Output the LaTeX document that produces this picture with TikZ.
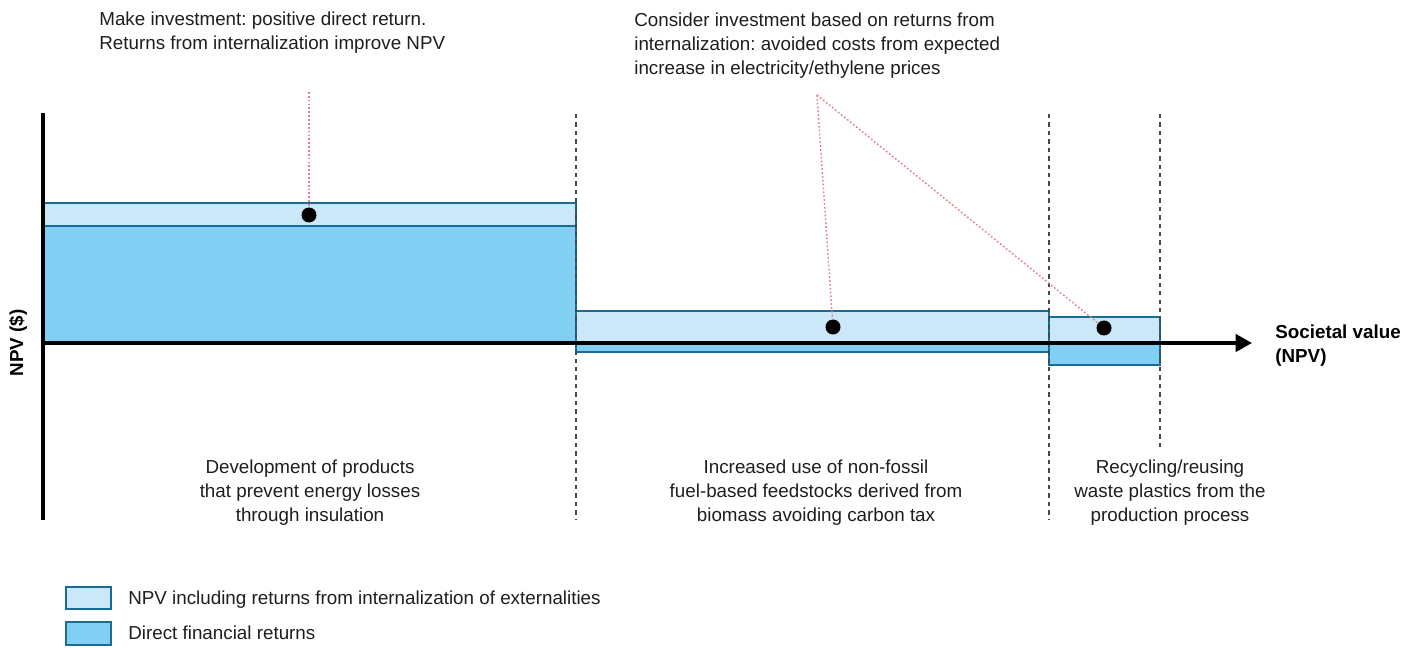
\documentclass[tikz,border=0pt]{standalone}
\usepackage{fontspec}
\setmainfont{Liberation Sans}
\usetikzlibrary{arrows.meta}
\definecolor{extblue}{HTML}{CBE8F8}
\definecolor{dirblue}{HTML}{82CFF4}
\definecolor{edgeblue}{HTML}{1B6C93}
\definecolor{notered}{HTML}{E57F8A}
\definecolor{splitgray}{HTML}{3C4A56}
\definecolor{inkgray}{HTML}{1E1E1E}
\frenchspacing

\begin{document}
\begin{tikzpicture}[x=0.02cm, y=-0.02cm,
  extbar/.style={fill=extblue, draw=edgeblue, line width=0.8pt},
  dirbar/.style={fill=dirblue, draw=edgeblue, line width=0.8pt},
  split/.style={draw=splitgray, line width=0.8pt, dash pattern=on 2.5pt off 2.3pt},
  axis/.style={draw=black, line width=1.9pt},
  noteline/.style={draw=notered, line width=0.8pt, dash pattern=on 1pt off 1.2pt},
  dot/.style={circle, fill=black, inner sep=0pt, minimum size=0.3cm},
  txt/.style={inner sep=0pt, text=inkgray, font=\fontsize{10.7}{13.4}\selectfont},
  bold/.style={inner sep=0pt, text=black, font=\bfseries\fontsize{10.7}{13.2}\selectfont}]
\useasboundingbox (0, 0) rectangle (1414, 648);

% bars
\path [extbar] (43, 203) rectangle (576, 226);
\path [dirbar] (43, 226) rectangle (576, 343);
\path [extbar] (576, 311) rectangle (1049, 343);
\path [dirbar] (576, 343) rectangle (1049, 352);
\path [extbar] (1049, 317) rectangle (1160, 343);
\path [dirbar] (1049, 343) rectangle (1160, 365);

% split lines
\draw [split] (576, 114) -- (576, 520);
\draw [split] (1049, 114) -- (1049, 520);
\draw [split] (1160, 114) -- (1160, 449);

% axes
\coordinate (origin) at (43, 343);
\coordinate (ytop) at (43, 113);
\coordinate (ybot) at (43, 520);
\coordinate (xend) at (1252, 343);
\draw [axis] (ytop) -- (ybot);
\draw [axis, -{Triangle[length=0.33cm, width=0.35cm]}] (origin) -- (xend);
\node [bold, rotate=90] (ylab) at (18, 343) {NPV (\$)};
\node [bold, anchor=north west, align=left] (xlab) at (1275, 325) {Societal value\\(NPV)};

% dots and notes
\node [dot] (dotA) at (309, 215) {};
\node [dot] (dotB) at (833, 327) {};
\node [dot] (dotC) at (1104, 328) {};
\coordinate (tipA) at (309, 92);
\coordinate (tipB) at (817, 95);
\draw [noteline] (tipA) -- (dotA);
\draw [noteline] (tipB) -- (dotB);
\draw [noteline] (tipB) -- (dotC);

\node [txt, anchor=north west, align=left] (noteA) at (99, 12) {Make investment: positive direct return.\\Returns from internalization improve NPV};
\node [txt, anchor=north west, align=left] (noteB) at (634, 13) {Consider investment based on returns from\\internalization: avoided costs from expected\\increase in electricity/ethylene prices};

% labels
\node [txt, anchor=north, align=center] (labA) at (310, 460) {Development of products\\that prevent energy losses\\through insulation};
\node [txt, anchor=north, align=center] (labB) at (816, 460) {Increased use of non-fossil\\fuel-based feedstocks derived from\\biomass avoiding carbon tax};
\node [txt, anchor=north, align=center] (labC) at (1170, 460) {Recycling/reusing\\waste plastics from the\\production process};

% legend
\path [extbar] (66, 587) rectangle (111, 609);
\path [dirbar] (66, 622) rectangle (111, 645);
\node [txt, anchor=base west] (keyA) at (128, 604) {NPV including returns from internalization of externalities};
\node [txt, anchor=base west] (keyB) at (128, 640) {Direct financial returns};
\end{tikzpicture}
\end{document}
